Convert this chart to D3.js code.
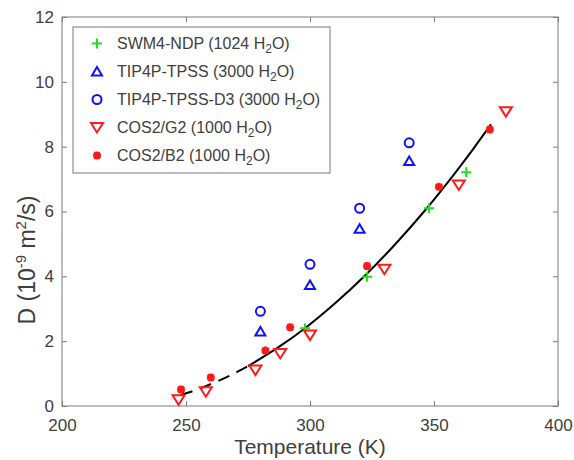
<!DOCTYPE html>
<html><head><meta charset="utf-8">
<script src="https://cdn.jsdelivr.net/npm/d3@7"></script>
<style>
html,body{margin:0;padding:0;background:#fff;}
svg{display:block;font-family:"Liberation Sans",Arial,Helvetica,sans-serif;}
</style></head>
<body><svg id="c" width="574" height="460"></svg>
<script>
// ---- data ----
const xTicks = [200, 250, 300, 350, 400];
const yTicks = [0, 2, 4, 6, 8, 10, 12];

const T_SWM = [298, 323, 348, 363];
const D_SWM = [2.40, 3.99, 6.10, 7.21];

const T_TPSS = [280, 300, 320, 340];
const D_TPSS = [2.30, 3.73, 5.47, 7.56];

const T_D3 = [280, 300, 320, 340];
const D_D3 = [2.92, 4.37, 6.10, 8.12];

const T_G2 = [247, 258, 278, 288, 300, 330, 360, 379];
const D_G2 = [0.19, 0.44, 1.11, 1.62, 2.19, 4.22, 6.82, 9.08];

const T_B2 = [248, 260, 282, 292, 323, 352, 372.5];
const D_B2 = [0.51, 0.88, 1.71, 2.43, 4.32, 6.76, 8.53];

// fitted curve (dashed below dashEnd)
const fitT = [248, 255, 262, 268, 275, 287, 298, 310, 322, 334, 346, 358, 366, 373];
const fitD = [0.34, 0.52, 0.74, 0.95, 1.23, 1.80, 2.40, 3.16, 4.01, 4.96, 6.00, 7.14, 7.95, 8.69];
const dashEnd = 275;

const legendNames = ["SWM4-NDP (1024 ", "TIP4P-TPSS (3000 ", "TIP4P-TPSS-D3 (3000 ", "COS2/G2 (1000 ", "COS2/B2 (1000 "];

// ---- layout ----
const svg = d3.select("#c");
const L = 62, R = 558, Tp = 17, B = 406;
const x = d3.scaleLinear().domain([200, 400]).range([L, R]);
const y = d3.scaleLinear().domain([0, 12]).range([B, Tp]);
const axisCol = "#7a7a7a", textCol = "#404040";

// frame
svg.append("rect").attr("x", L).attr("y", Tp).attr("width", R - L).attr("height", B - Tp)
  .attr("fill", "none").attr("stroke", axisCol).attr("stroke-width", 1);

// axes (inward ticks)
const gx = svg.append("g").attr("transform", `translate(0,${B})`)
  .call(d3.axisBottom(x).tickValues(xTicks).tickSizeInner(-5).tickSizeOuter(0).tickPadding(12.5));
const gxt = svg.append("g").attr("transform", `translate(0,${Tp})`)
  .call(d3.axisTop(x).tickValues(xTicks).tickSizeInner(-5).tickSizeOuter(0).tickFormat(""));
const gy = svg.append("g").attr("transform", `translate(${L},0)`)
  .call(d3.axisLeft(y).tickValues(yTicks).tickSizeInner(-5).tickSizeOuter(0).tickPadding(8));
const gyr = svg.append("g").attr("transform", `translate(${R},0)`)
  .call(d3.axisRight(y).tickValues(yTicks).tickSizeInner(-5).tickSizeOuter(0).tickFormat(""));
[gx, gxt, gy, gyr].forEach(g => {
  g.select(".domain").remove();
  g.selectAll(".tick line").attr("stroke", axisCol);
  g.selectAll(".tick text").attr("fill", textCol).style("font-size", "17px")
   .style("font-family", '"Liberation Sans",Arial,sans-serif');
});

// axis labels
svg.append("text").attr("x", (L + R) / 2).attr("y", 454).attr("text-anchor", "middle")
  .attr("fill", textCol).style("font-size", "21px").text("Temperature (K)");
const yl = svg.append("text").attr("transform", `translate(35,260) rotate(-90)`)
  .attr("text-anchor", "middle").attr("fill", textCol).style("font-size", "23px");
yl.append("tspan").text("D (10");
yl.append("tspan").attr("dy", -9).style("font-size", "15px").text("-9");
yl.append("tspan").attr("dy", 9).text(" m");
yl.append("tspan").attr("dy", -9).style("font-size", "15px").text("2");
yl.append("tspan").attr("dy", 9).text("/s)");

// fitted curve
const pts = fitT.map((t, i) => [t, fitD[i]]);
const line = d3.line().x(d => x(d[0])).y(d => y(d[1])).curve(d3.curveMonotoneX);
svg.append("path").attr("d", line(pts.filter(d => d[0] <= dashEnd)))
  .attr("fill", "none").attr("stroke", "#000").attr("stroke-width", 2).attr("stroke-dasharray", "12,8");
svg.append("path").attr("d", line(pts.filter(d => d[0] >= dashEnd)))
  .attr("fill", "none").attr("stroke", "#000").attr("stroke-width", 2);

// marker painters
const green = "#22dd22", blue = "#1010ff", red = "#ff1a1a";
function plus(g, cx, cy) {
  g.append("path").attr("d", `M${cx - 5},${cy}H${cx + 5}M${cx},${cy - 5}V${cy + 5}`)
    .attr("stroke", green).attr("stroke-width", 2).attr("fill", "none");
}
function triUp(g, cx, cy) {
  g.append("path").attr("d", `M${cx},${cy - 4.5}L${cx + 5},${cy + 4}L${cx - 5},${cy + 4}Z`)
    .attr("stroke", blue).attr("stroke-width", 2).attr("fill", "none");
}
function circ(g, cx, cy) {
  g.append("circle").attr("cx", cx).attr("cy", cy).attr("r", 4.5)
    .attr("stroke", blue).attr("stroke-width", 2).attr("fill", "none");
}
function triDown(g, cx, cy) {
  g.append("path").attr("d", `M${cx - 6},${cy - 4.5}L${cx + 6},${cy - 4.5}L${cx},${cy + 5}Z`)
    .attr("stroke", red).attr("stroke-width", 2).attr("fill", "none");
}
function star(g, cx, cy) {
  const r = 4, q = 3;
  g.append("path").attr("d",
    `M${cx - r},${cy}H${cx + r}M${cx},${cy - r}V${cy + r}M${cx - q},${cy - q}L${cx + q},${cy + q}M${cx - q},${cy + q}L${cx + q},${cy - q}`)
    .attr("stroke", red).attr("stroke-width", 2.6).attr("fill", "none");
}

const series = [
  {T: T_SWM, D: D_SWM, m: plus},
  {T: T_TPSS, D: D_TPSS, m: triUp},
  {T: T_D3, D: D_D3, m: circ},
  {T: T_G2, D: D_G2, m: triDown},
  {T: T_B2, D: D_B2, m: star}
];
const gm = svg.append("g");
series.forEach(s => s.T.forEach((t, i) => s.m(gm, x(t), y(s.D[i]))));

// legend
const lg = svg.append("g");
lg.append("rect").attr("x", 73).attr("y", 27).attr("width", 257).attr("height", 146)
  .attr("fill", "#fff").attr("stroke", axisCol).attr("stroke-width", 1);
series.forEach((s, i) => {
  const cy = 43.5 + i * 28;
  s.m(lg, 97, cy);
  const t = lg.append("text").attr("x", 117).attr("y", cy + 5.5).attr("fill", textCol).style("font-size", "16px");
  t.append("tspan").text(legendNames[i] + "H");
  t.append("tspan").attr("dy", 4).style("font-size", "12px").text("2");
  t.append("tspan").attr("dy", -4).text("O)");
});
</script></body></html>
